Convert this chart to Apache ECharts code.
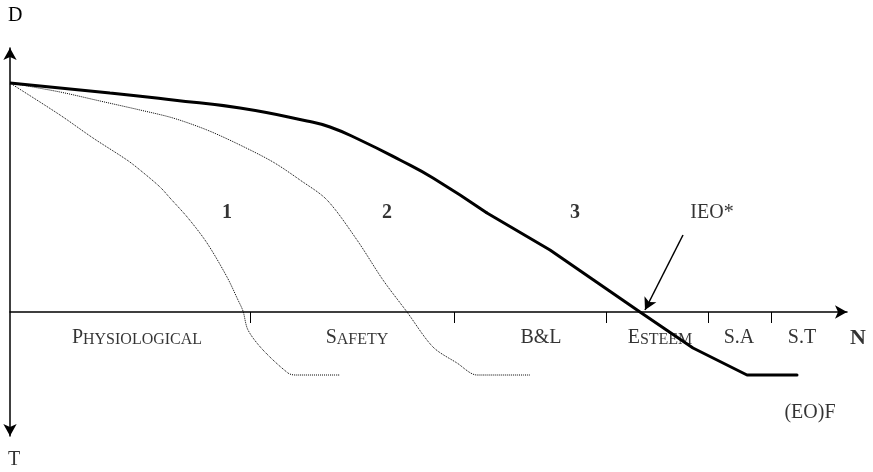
<!DOCTYPE html>
<html>
<head>
<meta charset="utf-8">
<script src="https://cdn.jsdelivr.net/npm/echarts@6/dist/echarts.min.js"></script>
<style>
  html, body { margin: 0; padding: 0; background: #fff; }
  #main { width: 873px; height: 472px; }
</style>
</head>
<body>
<div id="main"></div>
<script>
// stages along N (axis units)
var stageNames = ['Physiological', 'Safety', 'B&L', 'Esteem', 'S.A', 'S.T'];
var stageCenters = [12.7, 34.7, 53.1, 65, 72.9, 79.2];
var stageBounds = [24, 44.4, 59.6, 69.8, 76.1];
var stageRow = -2.6;

// curve 1 (dotted)
var curve1 = [[0, 22.9], [5, 19.7], [8.3, 17.4], [11.7, 15.2], [13, 14.2], [15, 12.5], [16, 11.4],
  [17.8, 9.4], [19.7, 6.9], [21.7, 3.5], [22.8, 1.2], [23.3, 0.1], [23.8, -1.8], [25.3, -3.8],
  [27.8, -6.1], [28.5, -6.3], [33, -6.3]];
// curve 2 (dotted)
var curve2 = [[0, 22.9], [5, 22], [9, 21.1], [13, 20.2], [16.3, 19.4], [19.7, 18.2], [23, 16.7],
  [26.3, 15], [29, 13.2], [31.7, 11.2], [34.7, 7.2], [37.3, 3.2], [39.7, 0], [42.3, -3.5],
  [44.7, -5.1], [46.7, -6.3], [52, -6.3]];
// curve 3 (solid): curved head, straight tail
var curve3Head = [[0, 22.9], [10, 21.9], [16.3, 21.2], [23, 20.4], [29.7, 19.1], [32, 18.5], [35, 17.2],
  [39, 15.2], [42.3, 13.4], [47.7, 9.9]];
var curve3Tail = [[47.7, 9.9], [54, 6.2], [63, 0], [68.3, -3.6], [73.7, -6.3], [78.7, -6.3]];

// text notes
var noteTexts = ['1', '2', '3', 'IEO*', 'N', '(EO)F', 'T'];
var noteX = [21.7, 37.7, 56.5, 70.2, 84.8, 80, 0.4];
var noteY = [9.9, 9.9, 9.9, 9.9, -2.6, -10.1, -14.8];
var boldNotes = ['1', '2', '3', 'N'];

// IEO* pointer
var pointerFrom = [67.3, 7.7];
var pointerTo = [63.5, 0.2];

var serif = 'Liberation Serif';

function stageLabel(p) {
    var s = p.name;
    if (s.toUpperCase() === s) return '{n|' + s + '}';
    // small caps like the original
    return '{big|' + s.charAt(0).toUpperCase() + '}{sm|' + s.slice(1).toUpperCase() + '}';
}

var stages = [];
for (var k = 0; k < stageNames.length; k++) {
    stages.push({ name: stageNames[k], value: [stageCenters[k], stageRow] });
}

var notes = [];
for (var i = 0; i < noteTexts.length; i++) {
    var bold = boldNotes.indexOf(noteTexts[i]) >= 0;
    notes.push({
        name: noteTexts[i],
        value: [noteX[i], noteY[i]],
        label: {
            fontWeight: bold ? 'bold' : 'normal',
            fontSize: noteTexts[i] === 'N' ? 22 : 20
        }
    });
}

var myChart = echarts.init(document.getElementById('main'));
window.onresize = myChart.resize;

var option = {
    animation: false,
    backgroundColor: '#fff',
    grid: {
        left: 10,
        right: 26,
        top: 48,
        bottom: 36,
        outerBoundsMode: 'none'
    },
    xAxis: {
        type: 'value',
        min: 0,
        max: 83.7,
        splitLine: { show: false },
        axisLabel: { show: false },
        axisLine: {
            onZero: true,
            symbol: ['none', 'arrow'],
            symbolSize: [10, 12],
            lineStyle: { color: '#000', width: 1.5 }
        },
        axisTick: {
            show: true,
            customValues: stageBounds,
            length: 11,
            lineStyle: { color: '#000', width: 1 }
        }
    },
    yAxis: {
        type: 'value',
        min: -12.4,
        max: 26.4,
        name: 'D',
        nameLocation: 'end',
        nameGap: 22,
        nameTextStyle: { fontFamily: serif, fontSize: 20, color: '#000', align: 'left', padding: [0, 0, 0, -2] },
        splitLine: { show: false },
        axisTick: { show: false },
        axisLabel: { show: false },
        axisLine: {
            onZero: false,
            symbol: ['arrow', 'arrow'],
            symbolSize: [10, 12],
            lineStyle: { color: '#000', width: 1.5 }
        }
    },
    series: [
        {
            name: '1',
            type: 'line',
            data: curve1,
            smooth: 0.3,
            showSymbol: false,
            lineStyle: { color: '#000', width: 1, type: 'dotted' }
        },
        {
            name: '2',
            type: 'line',
            data: curve2,
            smooth: 0.3,
            showSymbol: false,
            lineStyle: { color: '#000', width: 1, type: 'dotted' }
        },
        {
            name: '3',
            type: 'line',
            data: curve3Head,
            smooth: 0.5,
            showSymbol: false,
            lineStyle: { color: '#000', width: 3 }
        },
        {
            name: '3b',
            type: 'line',
            data: curve3Tail,
            showSymbol: false,
            lineStyle: { color: '#000', width: 3, cap: 'round', join: 'round' }
        },
        {
            name: 'stages',
            type: 'scatter',
            clip: false,
            symbolSize: 0,
            silent: true,
            data: stages,
            label: {
                show: true,
                position: 'inside',
                formatter: stageLabel,
                color: '#000',
                rich: {
                    big: { fontFamily: serif, fontSize: 20, color: '#000', verticalAlign: 'bottom', lineHeight: 20 },
                    sm: { fontFamily: serif, fontSize: 16, color: '#000', verticalAlign: 'bottom', lineHeight: 19 },
                    n: { fontFamily: serif, fontSize: 20, color: '#000', verticalAlign: 'bottom', lineHeight: 20 }
                }
            }
        },
        {
            name: 'notes',
            type: 'scatter',
            clip: false,
            symbolSize: 0,
            data: notes,
            silent: true,
            label: {
                show: true,
                position: 'inside',
                formatter: '{b}',
                fontFamily: serif,
                fontSize: 20,
                color: '#000'
            },
            markLine: {
                silent: true,
                symbol: ['none', 'arrow'],
                symbolSize: [10, 12],
                label: { show: false },
                lineStyle: { color: '#000', width: 1.5, type: 'solid' },
                data: [[{ coord: pointerFrom }, { coord: pointerTo }]]
            }
        }
    ]
};
myChart.setOption(option);
</script>
</body>
</html>
